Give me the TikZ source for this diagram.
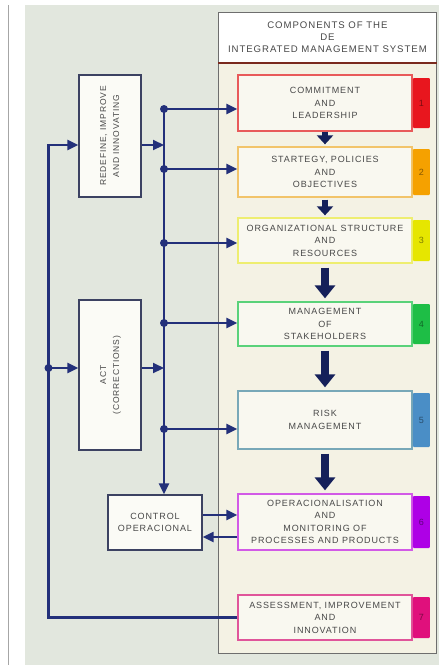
\documentclass[tikz,border=0pt]{standalone}
\usepackage{fontspec}
\setmainfont{Liberation Sans}
\newfontfamily\lblfont[LetterSpace=10]{Liberation Sans}
\usetikzlibrary{arrows.meta,calc}

\definecolor{bgcol}{HTML}{E2E7DE}
\definecolor{panelfill}{HTML}{F4F2E4}
\definecolor{boxfill}{HTML}{F9F8F0}
\definecolor{panelline}{HTML}{6E6E6E}
\definecolor{hdrred}{HTML}{7A2A1E}
\definecolor{navy}{HTML}{23307A}
\definecolor{darknavy}{HTML}{15205A}
\definecolor{leftline}{HTML}{3C4262}
\definecolor{leftfill}{HTML}{FBFBF6}
\definecolor{txtgray}{HTML}{484848}
\definecolor{bord1}{HTML}{E85A5A}\definecolor{tab1}{HTML}{E8161E}
\definecolor{bord2}{HTML}{F2C46A}\definecolor{tab2}{HTML}{F5A100}
\definecolor{bord3}{HTML}{EEEE70}\definecolor{tab3}{HTML}{E6E600}
\definecolor{bord4}{HTML}{5AD27A}\definecolor{tab4}{HTML}{1EBE46}
\definecolor{bord5}{HTML}{78A8B8}\definecolor{tab5}{HTML}{4A8EC6}
\definecolor{bord6}{HTML}{D25AE6}\definecolor{tab6}{HTML}{AE00E6}
\definecolor{bord7}{HTML}{E0559A}\definecolor{tab7}{HTML}{E0107C}

\tikzset{
  lbl/.style={font=\lblfont\fontsize{9}{12.5}\selectfont, text=txtgray, align=center},
  comp/.style={lbl, draw=#1, fill=boxfill, line width=1.3pt,
    minimum width=174pt, inner sep=0pt},
  tabbox/.style={fill=tab#1, text=tab#1!55!black, minimum width=17pt,
    inner sep=0pt, anchor=west, rounded corners=1pt,
    font=\fontsize{9}{9}\selectfont},
  leftbox/.style={lbl, draw=leftline, fill=leftfill, line width=1.3pt, inner sep=0pt},
  rottext/.style={font=\lblfont\fontsize{8.5}{13}\selectfont},
  conn/.style={draw=navy, line width=2.2pt},
  tip/.style={-{Triangle[length=11pt,width=10pt]}},
  dot/.style={circle, fill=navy, inner sep=0pt, minimum size=8pt},
  flowsmall/.style={draw=darknavy, line width=6pt, -{Triangle[length=9pt,width=16pt]}},
  flowbig/.style={draw=darknavy, line width=8pt, -{Triangle[length=13pt,width=20pt]},
    shorten <=4pt, shorten >=3pt},
}

\begin{document}
\begin{tikzpicture}[x=1pt,y=-1pt]
\useasboundingbox (0,0) rectangle (439,665);
% page background, left margin rule
\fill[white] (0,0) rectangle (439,665);
\fill[bgcol] (25,5) rectangle (439,665);
\draw[gray!70, line width=1.2pt] (8.5,5) -- (8.5,665);

% component panel
\draw[panelline, fill=panelfill, line width=0.8pt] (218,12) rectangle (436,653);
\node[lbl, font=\lblfont\fontsize{9.6}{12}\selectfont, draw=panelline, fill=white,
  line width=0.8pt, minimum width=218pt, minimum height=50pt, anchor=north west,
  inner sep=0pt] (hdr) at (218,12)
  {COMPONENTS OF THE\\DE\\INTEGRATED MANAGEMENT SYSTEM};
\draw[hdrred, line width=2.4pt] (hdr.south west) -- (hdr.south east);

% components
\node[comp=bord1, minimum height=56pt] (c1) at (325,103) {COMMITMENT\\AND\\LEADERSHIP};
\node[comp=bord2, minimum height=50pt] (c2) at (325,172) {STARTEGY, POLICIES\\AND\\OBJECTIVES};
\node[comp=bord3, minimum height=45pt] (c3) at (325,240.5) {ORGANIZATIONAL STRUCTURE\\AND\\RESOURCES};
\node[comp=bord4, minimum height=44pt] (c4) at (325,324) {MANAGEMENT\\OF\\STAKEHOLDERS};
\node[comp=bord5, minimum height=58pt] (c5) at (325,420) {RISK\\MANAGEMENT};
\node[comp=bord6, minimum height=56pt] (c6) at (325,522) {OPERACIONALISATION\\AND\\MONITORING OF\\PROCESSES AND PRODUCTS};
\node[comp=bord7, minimum height=45pt] (c7) at (325,617.5) {ASSESSMENT, IMPROVEMENT\\AND\\INNOVATION};

% numbered tabs
\node[tabbox=1, minimum height=50pt] (t1) at (c1.east) {1};
\node[tabbox=2, minimum height=46pt] (t2) at (c2.east) {2};
\node[tabbox=3, minimum height=41pt] (t3) at (c3.east) {3};
\node[tabbox=4, minimum height=40pt] (t4) at (c4.east) {4};
\node[tabbox=5, minimum height=54pt] (t5) at (c5.east) {5};
\node[tabbox=6, minimum height=52pt] (t6) at (c6.east) {6};
\node[tabbox=7, minimum height=41pt] (t7) at (c7.east) {7};

% flow between components
\draw[flowsmall, shorten >=2pt] (c1.south) -- (c2.north);
\draw[flowsmall, shorten <=2pt, shorten >=2pt] (c2.south) -- (c3.north);
\draw[flowbig] (c3.south) -- (c4.north);
\draw[flowbig] (c4.south) -- (c5.north);
\draw[flowbig] (c5.south) -- (c6.north);

% left-hand boxes
\node[leftbox, rottext, minimum width=62pt, minimum height=122pt] (redef) at (110,136)
  {\rotatebox{90}{\begin{tabular}{@{}c@{}}REDEFINE, IMPROVE\\AND INNOVATING\end{tabular}}};
\node[leftbox, rottext, minimum width=62pt, minimum height=150pt] (act) at (110,375)
  {\rotatebox{90}{\begin{tabular}{@{}c@{}}ACT\\(CORRECTIONS)\end{tabular}}};
\node[leftbox, minimum width=94pt, minimum height=55pt] (ctrl) at (155,522.5)
  {CONTROL\\OPERACIONAL};

% distribution bus
\coordinate (b1) at (164,109);
\coordinate (b2) at (164,169);
\coordinate (b3) at (164,243);
\coordinate (b4) at (164,323);
\coordinate (b5) at (164,429);
\coordinate (br) at (164,145);
\coordinate (ba) at (164,368);
\draw[conn, tip] (b1) -- (b1 |- ctrl.north);
\foreach \b/\c in {b1/c1, b2/c2, b3/c3, b4/c4, b5/c5}
  \draw[conn, tip] (\b) -- (\b -| \c.west);
\foreach \b in {b1, b2, b3, b4, b5}
  \node[dot] at (\b) {};
\draw[conn, tip] (br -| redef.east) -- (br);
\draw[conn, tip] (ba -| act.east) -- (ba);

% feedback loop from assessment
\coordinate (lt) at (48.5,145);
\coordinate (la) at (48.5,368);
\draw[conn, tip] (c7.west) -| (lt) -- (lt -| redef.west);
\draw[conn, tip] (la) -- (la -| act.west);
\node[dot] at (la) {};

% operational control exchange
\draw[conn, tip] ([yshift=7.5pt]ctrl.east) -- ([yshift=7.5pt]ctrl.east -| c6.west);
\draw[conn, tip] ([yshift=-14.5pt]ctrl.east -| c6.west) -- ([yshift=-14.5pt]ctrl.east);
\end{tikzpicture}
\end{document}
